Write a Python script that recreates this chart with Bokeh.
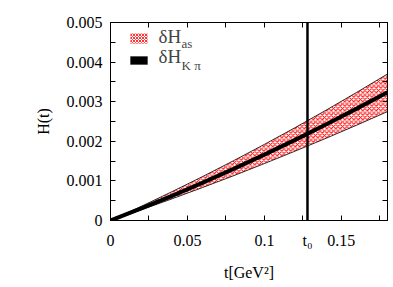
from bokeh.plotting import figure
from bokeh.models import (Range1d, FixedTicker, CustomJSTickFormatter, LinearAxis,
                          Label, BoxAnnotation, Span)
from bokeh.embed import file_html
from bokeh.resources import INLINE

# data
t_vals = [0.0, 0.02, 0.04, 0.06, 0.08, 0.10, 0.12, 0.14, 0.16, 0.18]
h_center = [0.0, 0.000305, 0.000624, 0.000957, 0.001303, 0.001663, 0.002036, 0.002424, 0.002825, 0.00324]
h_upper = [0.0, 0.000358, 0.000729, 0.001113, 0.001511, 0.001922, 0.002346, 0.002784, 0.003236, 0.0037]
h_lower = [0.0, 0.000269, 0.000547, 0.000835, 0.001131, 0.001437, 0.001752, 0.002075, 0.002408, 0.00275]
t0 = 0.128
x_ticks = [0.0, 0.05, 0.10, 0.15]
x_minor = [0.025, 0.075, 0.125, 0.175]
y_ticks = [0.0, 0.001, 0.002, 0.003, 0.004, 0.005]
y_minor = [0.0005, 0.0015, 0.0025, 0.0035, 0.0045]

FONT = "Liberation Serif"

p = figure(width=393, height=287, output_backend="svg", toolbar_location=None,
           x_range=Range1d(0, 0.18), y_range=Range1d(0, 0.005),
           min_border_left=110, min_border_right=6, min_border_top=22, min_border_bottom=67)
p.grid.visible = False
p.outline_line_color = "black"
p.outline_line_width = 1
p.background_fill_color = "white"
p.border_fill_color = "white"

# band
p.varea(x=t_vals, y1=h_lower, y2=h_upper, fill_color="white", fill_alpha=1.0,
        hatch_pattern="diagonal_cross", hatch_color="red", hatch_scale=4.5, hatch_weight=1)
p.line(t_vals, h_upper, line_color="black", line_width=0.8)
p.line(t_vals, h_lower, line_color="black", line_width=0.8)
p.line(t_vals, h_center, line_color="black", line_width=4)
p.add_layout(Span(location=t0, dimension="height", line_color="black", line_width=2.5))

xfmt = CustomJSTickFormatter(args=dict(t0=t0), code="""
if (Math.abs(tick - t0) < 1e-9) { return "t\u2080"; }
return parseFloat(tick.toFixed(3)).toString();""")
yfmt = CustomJSTickFormatter(code="return parseFloat(tick.toFixed(4)).toString();")
blank = CustomJSTickFormatter(code="return '';")

def style(ax):
    ax.major_tick_in = 5
    ax.major_tick_out = 0
    ax.minor_tick_in = 5
    ax.minor_tick_out = 0
    ax.axis_line_color = "black"
    ax.major_tick_line_color = "black"
    ax.minor_tick_line_color = "black"
    ax.major_label_text_font = FONT
    ax.major_label_text_font_size = "16px"
    ax.major_label_text_color = "black"

p.xaxis.ticker = FixedTicker(ticks=x_ticks + [t0], minor_ticks=x_minor)
p.yaxis.ticker = FixedTicker(ticks=y_ticks, minor_ticks=y_minor)
p.xaxis.formatter = xfmt
p.yaxis.formatter = yfmt
style(p.xaxis[0])
style(p.yaxis[0])
p.xaxis.major_label_standoff = 11
p.yaxis.major_label_standoff = 8
p.xaxis.axis_label = "t[GeV²]"
p.yaxis.axis_label = "H(t)"
for ax in (p.xaxis[0], p.yaxis[0]):
    ax.axis_label_text_font = FONT
    ax.axis_label_text_font_style = "normal"
    ax.axis_label_text_font_size = "16px"
    ax.axis_label_text_color = "black"
p.xaxis.axis_label_standoff = 12
p.yaxis.axis_label_standoff = 12

top = LinearAxis(ticker=FixedTicker(ticks=x_ticks, minor_ticks=x_minor), formatter=blank)
style(top)
p.add_layout(top, "above")
right = LinearAxis(ticker=FixedTicker(ticks=y_ticks, minor_ticks=y_minor), formatter=blank)
style(right)
p.add_layout(right, "right")

# legend (screen units, relative to the plot frame)
p.add_layout(BoxAnnotation(left=20, right=37, top=187, bottom=177, left_units="screen", right_units="screen",
                           top_units="screen", bottom_units="screen", fill_color="white", fill_alpha=1,
                           hatch_pattern="diagonal_cross", hatch_color="red", hatch_scale=3,
                           hatch_weight=0.8, line_color="#ff6666", line_width=0.8))
p.add_layout(BoxAnnotation(left=20, right=37, top=164, bottom=156, left_units="screen", right_units="screen",
                           top_units="screen", bottom_units="screen", fill_color="black", fill_alpha=1,
                           line_color="black"))
p.add_layout(Label(x=48, y=174, x_units="screen", y_units="screen", text="δH",
                   text_font=FONT, text_font_size="19px"))
p.add_layout(Label(x=71, y=170, x_units="screen", y_units="screen", text="as",
                   text_font=FONT, text_font_size="13px"))
p.add_layout(Label(x=48, y=154, x_units="screen", y_units="screen", text="δH",
                   text_font=FONT, text_font_size="19px"))
p.add_layout(Label(x=71, y=148, x_units="screen", y_units="screen", text="K π",
                   text_font=FONT, text_font_size="13px"))

open("out.html", "w").write(file_html(p, INLINE))
